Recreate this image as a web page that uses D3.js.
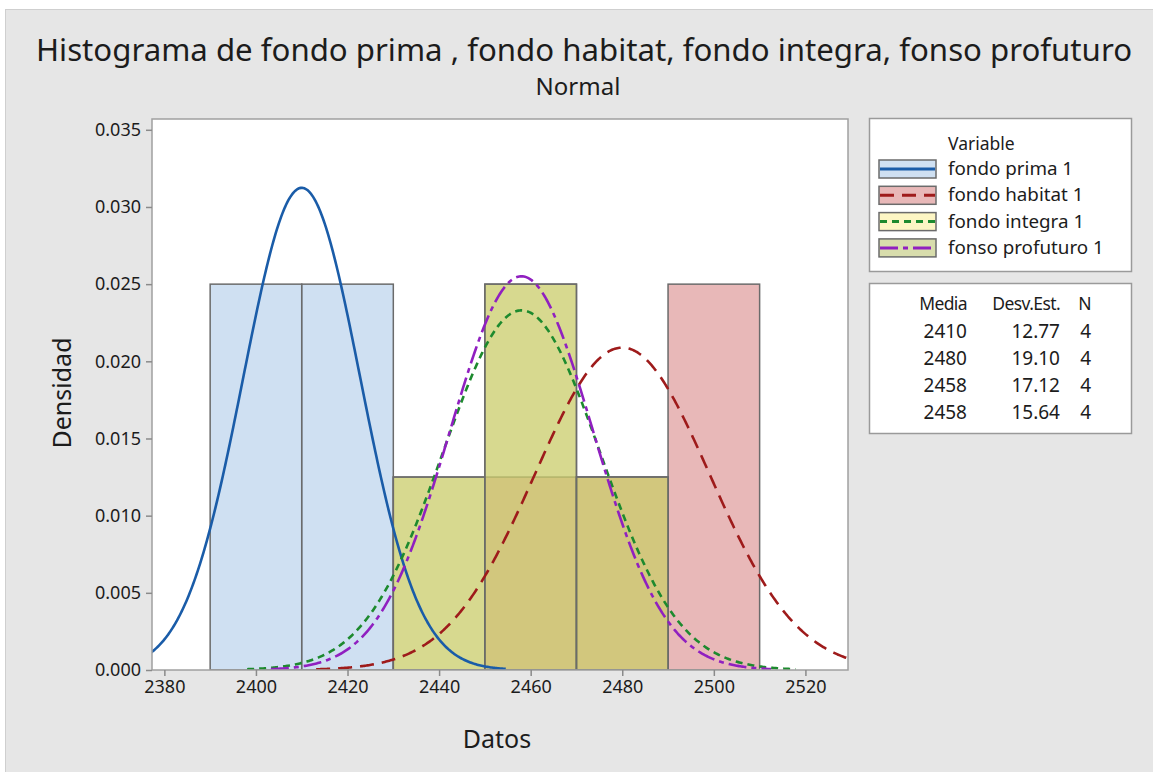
<!DOCTYPE html>
<html lang="es">
  <head>
    <meta charset="utf-8" />
    <title>Histograma de fondos - Normal</title>
    <script src="https://d3js.org/d3.v7.min.js"></script>
    <style>
      body { margin: 0; background: #fff; }
      text { font-family: "Noto Sans", "Open Sans", sans-serif; fill: #1c1c1c; }
    </style>
  </head>
  <body>
    <script>
      // datos
      var seriesNames = ["fondo prima 1", "fondo habitat 1", "fondo integra 1", "fonso profuturo 1"];
      var binStarts = [2390, 2410, 2430, 2450, 2470, 2490];
      var binWidth = 20;
      var primaDensity = [0.025, 0.025, 0, 0, 0, 0];
      var habitatDensity = [0, 0, 0, 0.0125, 0.0125, 0.025];
      var integraDensity = [0, 0, 0.0125, 0.025, 0.0125, 0];
      var profuturoDensity = [0, 0, 0.0125, 0.025, 0.0125, 0];
      var means = [2410, 2480, 2458, 2458];
      var stdDevs = [12.77, 19.10, 17.12, 15.64];
      var counts = [4, 4, 4, 4];
      var xTicks = [2380, 2400, 2420, 2440, 2460, 2480, 2500, 2520];
      var yTicks = [0, 0.005, 0.01, 0.015, 0.02, 0.025, 0.03, 0.035];

      var densities = [primaDensity, habitatDensity, integraDensity, profuturoDensity];
      var fills = ["#9fc1e5", "#d17171", "#fbed89", "#b1bc5a"];
      var lineColors = ["#1a5ca8", "#9e1b1b", "#1d8a2e", "#9020c0"];
      var dashes = ["none", "14,8", "7,5", "18,5,5,5"];

      var W = 1153, H = 772;
      var plot = { left: 152, right: 848, top: 119, bottom: 670 };

      var svg = d3.select("body").append("svg")
        .attr("width", W).attr("height", H);

      svg.append("rect").attr("x", 5.5).attr("y", 9.5)
        .attr("width", W).attr("height", H)
        .attr("fill", "#e6e6e6").attr("stroke", "#cfcfcf");

      var x = d3.scaleLinear().domain([2377.3, 2529.3]).range([plot.left, plot.right]);
      var y = d3.scaleLinear().domain([0, 0.0357]).range([plot.bottom, plot.top]);

      svg.append("rect")
        .attr("x", plot.left).attr("y", plot.top)
        .attr("width", plot.right - plot.left).attr("height", plot.bottom - plot.top)
        .attr("fill", "#fff");

      svg.append("clipPath").attr("id", "clip").append("rect")
        .attr("x", plot.left).attr("y", plot.top)
        .attr("width", plot.right - plot.left).attr("height", plot.bottom - plot.top);

      var g = svg.append("g").attr("clip-path", "url(#clip)");

      // barras
      densities.forEach(function (dens, s) {
        g.append("g").selectAll("rect")
          .data(binStarts.map(function (b, i) { return { b: b, d: dens[i] }; })
            .filter(function (d) { return d.d > 0; }))
          .enter().append("rect")
          .attr("x", function (d) { return x(d.b); })
          .attr("y", function (d) { return y(d.d); })
          .attr("width", function (d) { return x(d.b + binWidth) - x(d.b); })
          .attr("height", function (d) { return y(0) - y(d.d); })
          .attr("fill", fills[s]).attr("fill-opacity", 0.5)
          .attr("stroke", "#6b6b6b").attr("stroke-width", 1.5);
      });

      // curvas normales
      var line = d3.line()
        .x(function (d) { return x(d[0]); })
        .y(function (d) { return y(d[1]); });

      means.forEach(function (m, s) {
        var sd = stdDevs[s];
        var pts = d3.range(m - 3.5 * sd, m + 3.5 * sd, 0.25).map(function (v) {
          return [v, Math.exp(-0.5 * Math.pow((v - m) / sd, 2)) / (sd * Math.sqrt(2 * Math.PI))];
        });
        g.append("path").datum(pts)
          .attr("d", line)
          .attr("fill", "none")
          .attr("stroke", lineColors[s])
          .attr("stroke-width", 2.6)
          .attr("stroke-dasharray", dashes[s]);
      });

      svg.append("rect")
        .attr("x", plot.left).attr("y", plot.top)
        .attr("width", plot.right - plot.left).attr("height", plot.bottom - plot.top)
        .attr("fill", "none").attr("stroke", "#a0a0a0").attr("stroke-width", 1.5);

      // ejes
      var xAxis = svg.append("g")
        .attr("transform", "translate(0," + plot.bottom + ")")
        .call(d3.axisBottom(x).tickValues(xTicks).tickSize(6).tickPadding(4).tickFormat(d3.format("d")));
      var yAxis = svg.append("g")
        .attr("transform", "translate(" + plot.left + ",0)")
        .call(d3.axisLeft(y).tickValues(yTicks).tickSize(6).tickPadding(5).tickFormat(d3.format(".3f")));

      [xAxis, yAxis].forEach(function (a) {
        a.select(".domain").remove();
        a.selectAll(".tick line").attr("stroke", "#8a8a8a").attr("stroke-width", 1.5);
        a.selectAll(".tick text").attr("font-size", 18).attr("fill", "#2a2a2a")
          .style("font-family", "'Noto Sans', sans-serif");
      });

      svg.append("text").attr("x", 497).attr("y", 748)
        .attr("text-anchor", "middle").attr("font-size", 25).text("Datos");
      svg.append("text").attr("transform", "translate(71,393) rotate(-90)")
        .attr("text-anchor", "middle").attr("font-size", 25).text("Densidad");

      // titulo
      svg.append("text").attr("x", 584).attr("y", 61)
        .attr("text-anchor", "middle").attr("font-size", 31.2)
        .text("Histograma de fondo prima , fondo habitat, fondo integra, fonso profuturo");
      svg.append("text").attr("x", 578).attr("y", 95)
        .attr("text-anchor", "middle").attr("font-size", 24).text("Normal");

      // leyenda
      var leg = svg.append("g");
      leg.append("rect").attr("x", 869.5).attr("y", 118.5).attr("width", 262).attr("height", 153)
        .attr("fill", "#fff").attr("stroke", "#9a9a9a").attr("stroke-width", 1.5);
      leg.append("text").attr("x", 948).attr("y", 150).attr("font-size", 17.5).text("Variable");

      seriesNames.forEach(function (name, s) {
        var yy = 160 + s * 26.3;
        leg.append("rect").attr("x", 879).attr("y", yy).attr("width", 57).attr("height", 18)
          .attr("fill", fills[s]).attr("fill-opacity", 0.5)
          .attr("stroke", "#6b6b6b").attr("stroke-width", 1.5);
        leg.append("line").attr("x1", 880).attr("x2", 935).attr("y1", yy + 9).attr("y2", yy + 9)
          .attr("stroke", lineColors[s]).attr("stroke-width", 3)
          .attr("stroke-dasharray", dashes[s]);
        leg.append("text").attr("x", 948).attr("y", yy + 15).attr("font-size", 18.8).text(name);
      });

      // tabla de estadisticos
      var tab = svg.append("g");
      tab.append("rect").attr("x", 869.5).attr("y", 283.5).attr("width", 262).attr("height", 150)
        .attr("fill", "#fff").attr("stroke", "#9a9a9a").attr("stroke-width", 1.5);
      var cols = [967, 1060, 1091];
      ["Media", "Desv.Est.", "N"].forEach(function (h, i) {
        tab.append("text").attr("x", cols[i]).attr("y", 310).attr("text-anchor", "end")
          .attr("font-size", 17.5).attr("letter-spacing", -0.6).text(h);
      });
      means.forEach(function (m, s) {
        var yy = 338 + s * 27;
        tab.append("text").attr("x", cols[0]).attr("y", yy).attr("text-anchor", "end")
          .attr("font-size", 19).text(d3.format("d")(m));
        tab.append("text").attr("x", cols[1]).attr("y", yy).attr("text-anchor", "end")
          .attr("font-size", 19).text(d3.format(".2f")(stdDevs[s]));
        tab.append("text").attr("x", cols[2]).attr("y", yy).attr("text-anchor", "end")
          .attr("font-size", 19).text(counts[s]);
      });
    </script>
  </body>
</html>
